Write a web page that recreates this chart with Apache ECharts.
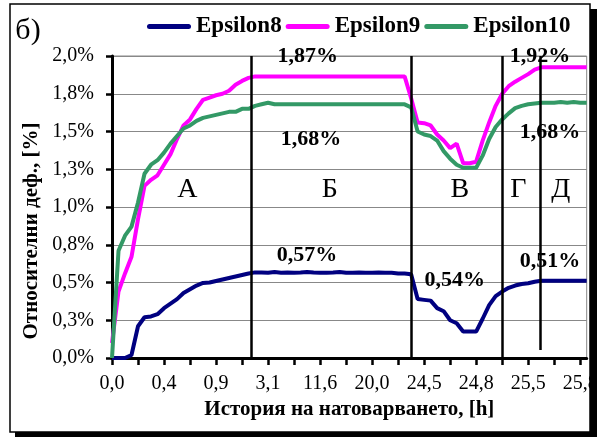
<!DOCTYPE html>
<html><head><meta charset="utf-8">
<script src="https://cdn.jsdelivr.net/npm/echarts@6/dist/echarts.min.js"></script>
<style>html,body{margin:0;padding:0;background:#fff}#c{width:606px;height:438px}</style>
</head><body><div id="c"></div>
<script>
const seriesNames = ['Epsilon8', 'Epsilon9', 'Epsilon10'];
const seriesColors = ['#000080', '#FF00FF', '#339966'];

// sampled values (index = position along the loading history), in %
const eps8 = [0, 0, 0, 0.02, 0.21, 0.27, 0.275, 0.29, 0.33, 0.36,
  0.39, 0.43, 0.455, 0.48, 0.497, 0.50, 0.51, 0.52, 0.53, 0.54,
  0.55, 0.56, 0.567, 0.567, 0.565, 0.57, 0.565, 0.567, 0.565, 0.567,
  0.57, 0.567, 0.565, 0.565, 0.567, 0.57, 0.565, 0.565, 0.567, 0.565,
  0.565, 0.567, 0.565, 0.565, 0.56, 0.56, 0.555, 0.39, 0.385, 0.38,
  0.33, 0.31, 0.25, 0.23, 0.175, 0.175, 0.175, 0.26, 0.35, 0.41,
  0.44, 0.465, 0.48, 0.49, 0.495, 0.505, 0.512, 0.512, 0.512, 0.512,
  0.512, 0.512, 0.512, 0.512];
const eps9 = [0.10, 0.44, 0.56, 0.67, 0.92, 1.14, 1.18, 1.21, 1.28, 1.35,
  1.45, 1.54, 1.58, 1.65, 1.71, 1.725, 1.74, 1.75, 1.77, 1.81,
  1.835, 1.855, 1.865, 1.865, 1.865, 1.865, 1.865, 1.865, 1.865, 1.865,
  1.865, 1.865, 1.865, 1.865, 1.865, 1.865, 1.865, 1.865, 1.865, 1.865,
  1.865, 1.865, 1.865, 1.865, 1.865, 1.865, 1.72, 1.56, 1.555, 1.54,
  1.48, 1.44, 1.39, 1.42, 1.29, 1.29, 1.30, 1.44, 1.56, 1.67,
  1.75, 1.80, 1.83, 1.855, 1.88, 1.91, 1.925, 1.925, 1.925, 1.925,
  1.925, 1.925, 1.925, 1.925];
const eps10 = [0, 0.71, 0.81, 0.87, 1.03, 1.22, 1.28, 1.31, 1.36, 1.42,
  1.47, 1.52, 1.54, 1.57, 1.59, 1.60, 1.61, 1.62, 1.63, 1.63,
  1.65, 1.65, 1.67, 1.68, 1.69, 1.68, 1.68, 1.68, 1.68, 1.68,
  1.68, 1.68, 1.68, 1.68, 1.68, 1.68, 1.68, 1.68, 1.68, 1.68,
  1.68, 1.68, 1.68, 1.68, 1.68, 1.68, 1.66, 1.50, 1.48, 1.47,
  1.44, 1.37, 1.32, 1.28, 1.26, 1.26, 1.26, 1.34, 1.45, 1.53,
  1.58, 1.62, 1.655, 1.67, 1.68, 1.685, 1.69, 1.69, 1.69, 1.695,
  1.69, 1.695, 1.69, 1.69];

const xTickLabels = ['0,0', '0,4', '0,9', '3,1', '11,6', '20,0', '24,5', '24,8', '25,5', '25,8'];
const valueLabels = ['1,87%', '1,68%', '0,57%', '0,54%', '1,92%', '1,68%', '0,51%'];
const stageLabels = ['А', 'Б', 'В', 'Г', 'Д'];
const xAxisTitle = 'История на натоварването, [h]';
const yAxisTitle = 'Относителни деф., [%]';
const panelLabel = 'б)';

const FF = '"Liberation Serif", "Times New Roman", serif';
const allSeries = [eps8, eps9, eps10];
const labelStep = 8, tickStep = 4, lastIdx = eps8.length - 1;
const tickVals = [], labelVals = [];
for (let v = 0; v <= lastIdx; v += tickStep) tickVals.push(v);
for (let k = 0; k < xTickLabels.length; k++) labelVals.push(k * labelStep);

const valLabelStyle = {show: true, position: 'inside', formatter: '{b}', fontFamily: FF, fontWeight: 'bold', fontSize: 22, color: '#000'};
const stageLabelStyle = {show: true, position: 'inside', formatter: '{b}', fontFamily: FF, fontWeight: 'normal', fontSize: 28, color: '#000'};
const annot = [
  [{name: valueLabels[2], coord: [30.0, 0.682]}, {name: valueLabels[3], coord: [52.7, 0.513]}, {name: valueLabels[6], coord: [67.35, 0.642]},
   {name: stageLabels[0], coord: [11.6, 1.113], label: stageLabelStyle}, {name: stageLabels[1], coord: [33.5, 1.113], label: stageLabelStyle},
   {name: stageLabels[2], coord: [53.5, 1.113], label: stageLabelStyle}, {name: stageLabels[3], coord: [62.5, 1.113], label: stageLabelStyle},
   {name: stageLabels[4], coord: [69.0, 1.113], label: stageLabelStyle}],
  [{name: valueLabels[0], coord: [30.1, 2.0]}, {name: valueLabels[4], coord: [65.8, 1.997]}],
  [{name: valueLabels[1], coord: [30.6, 1.447]}, {name: valueLabels[5], coord: [67.35, 1.493]}]
];

const series = allSeries.map((arr, s) => {
  const o = {
    name: seriesNames[s], type: 'line', symbol: 'none', showSymbol: false,
    data: arr.map((v, i) => [i, v]),
    lineStyle: {color: seriesColors[s], width: 4},
    itemStyle: {color: seriesColors[s]},
    markPoint: {symbol: 'circle', symbolSize: 0, silent: true, label: valLabelStyle, data: annot[s]}
  };
  if (s === 0) {
    o.markLine = {
      symbol: ['none', 'none'], silent: true, label: {show: false},
      lineStyle: {color: '#000', width: 2.5, type: 'solid'},
      data: [{xAxis: 21.48}, {xAxis: 46.09}, {xAxis: 60.08},
        [{coord: [65.82, 2.0]}, {coord: [65.82, 0.053]}]]
    };
  }
  return o;
});

const pill = 'path://M2.5,0 H41.5 A2.5,2.5 0 0 1 41.5,5 H2.5 A2.5,2.5 0 0 1 2.5,0 Z';

const chart = echarts.init(document.getElementById('c'), null, {renderer: 'canvas'});
chart.setOption({
  animation: false,
  backgroundColor: '#fff',
  legend: {
    top: 10, left: 142, itemWidth: 44, itemHeight: 5, itemGap: 4, icon: pill,
    data: seriesNames,
    textStyle: {fontFamily: FF, fontWeight: 'bold', fontSize: 23, color: '#000'}
  },
  grid: {left: 112, right: 19.3, top: 56, bottom: 80, show: true, borderColor: '#888', borderWidth: 1, backgroundColor: 'transparent'},
  xAxis: {
    type: 'value', min: 0, max: lastIdx,
    axisLine: {show: true, onZero: false, lineStyle: {color: '#000', width: 3}},
    axisTick: {show: true, customValues: tickVals, length: 7, lineStyle: {color: '#000', width: 2.5}},
    axisLabel: {customValues: labelVals, formatter: v => xTickLabels[Math.round(v / labelStep)], fontFamily: FF, fontSize: 20, color: '#000', margin: 16},
    splitLine: {show: false},
    name: xAxisTitle, nameLocation: 'middle', nameGap: 37,
    nameTextStyle: {fontFamily: FF, fontWeight: 'bold', fontSize: 21, color: '#000'}
  },
  yAxis: {
    type: 'value', min: 0, max: 2, interval: 0.25,
    axisLine: {show: true, lineStyle: {color: '#000', width: 3}},
    axisTick: {show: true, length: 6, lineStyle: {color: '#000', width: 2.5}},
    axisLabel: {formatter: v => v.toFixed(1).replace('.', ',') + '%', fontFamily: FF, fontSize: 20, color: '#000', margin: 18},
    splitLine: {show: true, lineStyle: {color: '#888', width: 1}}
  },
  graphic: [
    {type: 'rect', z: -10, silent: true, shape: {x: 15, y: 9, width: 582, height: 428}, style: {fill: '#000'}},
    {type: 'rect', z: -9, silent: true, shape: {x: 10, y: 4, width: 580, height: 428}, style: {fill: '#fff', stroke: '#000', lineWidth: 1.5}},
    {type: 'rect', z: 100, silent: true, shape: {x: 590, y: 9, width: 7, height: 428}, style: {fill: '#000'}},
    {type: 'rect', z: 100, silent: true, shape: {x: 597, y: 0, width: 9, height: 438}, style: {fill: '#fff'}},
    {type: 'text', z: 50, x: 28, y: 31, style: {text: panelLabel, font: '30px ' + FF, fill: '#000', textAlign: 'center', textVerticalAlign: 'middle'}},
    {type: 'text', z: 50, x: 32, y: 231, rotation: Math.PI / 2, style: {text: yAxisTitle, font: 'bold 21px ' + FF, fill: '#000', textAlign: 'center', textVerticalAlign: 'middle'}}
  ],
  series: series
});
</script></body></html>
